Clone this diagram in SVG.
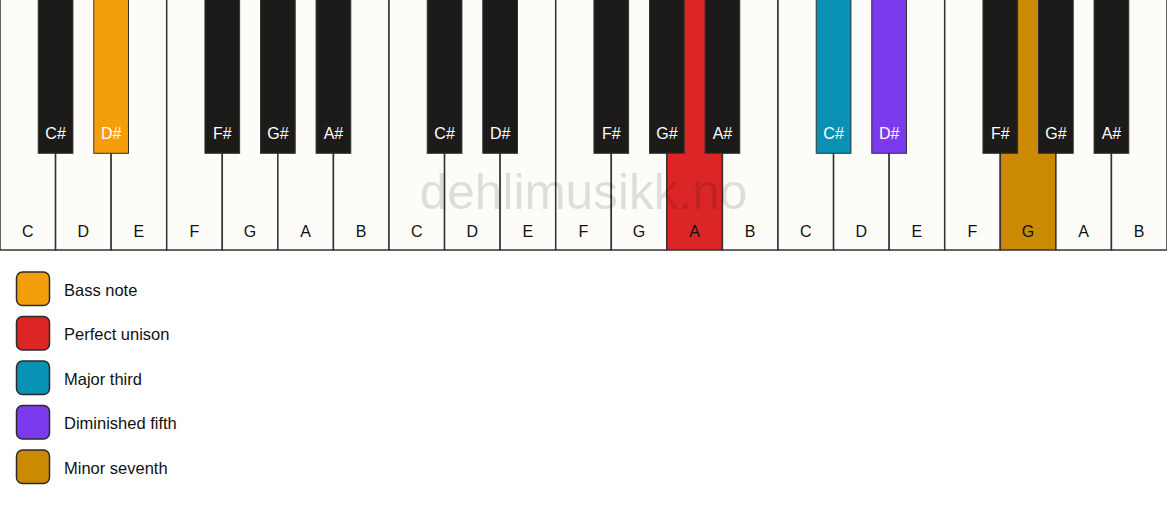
<svg xmlns="http://www.w3.org/2000/svg" width="1167" height="506" viewBox="0 0 1167 506">
<style>
text{font-family:"Liberation Sans",Arial,sans-serif;font-size:16px;text-anchor:middle}
.w{fill:#fdfcf9;stroke:#333;stroke-width:1.5}
.b{fill:#1c1b1a;stroke:#333;stroke-width:1}
.wl{fill:#111}
.bl{fill:#fff}
.lg{stroke:#2a2a2a;stroke-width:1.5}
.lt{text-anchor:start;fill:#111;font-size:16.5px}
.bass{fill:#f59e0b}
.uni{fill:#dc2626}
.third{fill:#0891b2}
.fifth{fill:#7c3aed}
.sev{fill:#ca8a04}
</style>
<rect width="1167" height="506" fill="#ffffff"/>
<g id="white-keys">
<g id="w0"><rect class="w" x="0" y="-2" width="55.571" height="252"/><text class="wl" x="27.79" y="236.5">C</text></g>
<g id="w1"><rect class="w" x="55.571" y="-2" width="55.571" height="252"/><text class="wl" x="83.36" y="236.5">D</text></g>
<g id="w2"><rect class="w" x="111.143" y="-2" width="55.571" height="252"/><text class="wl" x="138.93" y="236.5">E</text></g>
<g id="w3"><rect class="w" x="166.714" y="-2" width="55.571" height="252"/><text class="wl" x="194.5" y="236.5">F</text></g>
<g id="w4"><rect class="w" x="222.286" y="-2" width="55.571" height="252"/><text class="wl" x="250.07" y="236.5">G</text></g>
<g id="w5"><rect class="w" x="277.857" y="-2" width="55.571" height="252"/><text class="wl" x="305.64" y="236.5">A</text></g>
<g id="w6"><rect class="w" x="333.429" y="-2" width="55.571" height="252"/><text class="wl" x="361.21" y="236.5">B</text></g>
<g id="w7"><rect class="w" x="389" y="-2" width="55.571" height="252"/><text class="wl" x="416.79" y="236.5">C</text></g>
<g id="w8"><rect class="w" x="444.571" y="-2" width="55.571" height="252"/><text class="wl" x="472.36" y="236.5">D</text></g>
<g id="w9"><rect class="w" x="500.143" y="-2" width="55.571" height="252"/><text class="wl" x="527.93" y="236.5">E</text></g>
<g id="w10"><rect class="w" x="555.714" y="-2" width="55.571" height="252"/><text class="wl" x="583.5" y="236.5">F</text></g>
<g id="w11"><rect class="w" x="611.286" y="-2" width="55.571" height="252"/><text class="wl" x="639.07" y="236.5">G</text></g>
<g id="w12"><rect class="w uni" x="666.857" y="-2" width="55.571" height="252"/><text class="wl" x="694.64" y="236.5">A</text></g>
<g id="w13"><rect class="w" x="722.429" y="-2" width="55.571" height="252"/><text class="wl" x="750.21" y="236.5">B</text></g>
<g id="w14"><rect class="w" x="778" y="-2" width="55.571" height="252"/><text class="wl" x="805.79" y="236.5">C</text></g>
<g id="w15"><rect class="w" x="833.571" y="-2" width="55.571" height="252"/><text class="wl" x="861.36" y="236.5">D</text></g>
<g id="w16"><rect class="w" x="889.143" y="-2" width="55.571" height="252"/><text class="wl" x="916.93" y="236.5">E</text></g>
<g id="w17"><rect class="w" x="944.714" y="-2" width="55.571" height="252"/><text class="wl" x="972.5" y="236.5">F</text></g>
<g id="w18"><rect class="w sev" x="1000.286" y="-2" width="55.571" height="252"/><text class="wl" x="1028.07" y="236.5">G</text></g>
<g id="w19"><rect class="w" x="1055.857" y="-2" width="55.571" height="252"/><text class="wl" x="1083.64" y="236.5">A</text></g>
<g id="w20"><rect class="w" x="1111.429" y="-2" width="55.571" height="252"/><text class="wl" x="1139.21" y="236.5">B</text></g>
</g>
<text id="watermark" x="583.5" y="208.5" style="font-size:49.5px;fill:#000;fill-opacity:0.12">dehlimusikk.no</text>
<g id="black-keys">
<g id="b0"><rect class="b" x="38.22" y="-2" width="34.7" height="155.3"/><text class="bl" x="55.57" y="139">C#</text></g>
<g id="b1"><rect class="b bass" x="93.79" y="-2" width="34.7" height="155.3"/><text class="bl" x="111.14" y="139">D#</text></g>
<g id="b2"><rect class="b" x="204.94" y="-2" width="34.7" height="155.3"/><text class="bl" x="222.29" y="139">F#</text></g>
<g id="b3"><rect class="b" x="260.51" y="-2" width="34.7" height="155.3"/><text class="bl" x="277.86" y="139">G#</text></g>
<g id="b4"><rect class="b" x="316.08" y="-2" width="34.7" height="155.3"/><text class="bl" x="333.43" y="139">A#</text></g>
<g id="b5"><rect class="b" x="427.22" y="-2" width="34.7" height="155.3"/><text class="bl" x="444.57" y="139">C#</text></g>
<g id="b6"><rect class="b" x="482.79" y="-2" width="34.7" height="155.3"/><text class="bl" x="500.14" y="139">D#</text></g>
<g id="b7"><rect class="b" x="593.94" y="-2" width="34.7" height="155.3"/><text class="bl" x="611.29" y="139">F#</text></g>
<g id="b8"><rect class="b" x="649.51" y="-2" width="34.7" height="155.3"/><text class="bl" x="666.86" y="139">G#</text></g>
<g id="b9"><rect class="b" x="705.08" y="-2" width="34.7" height="155.3"/><text class="bl" x="722.43" y="139">A#</text></g>
<g id="b10"><rect class="b third" x="816.22" y="-2" width="34.7" height="155.3"/><text class="bl" x="833.57" y="139">C#</text></g>
<g id="b11"><rect class="b fifth" x="871.79" y="-2" width="34.7" height="155.3"/><text class="bl" x="889.14" y="139">D#</text></g>
<g id="b12"><rect class="b" x="982.94" y="-2" width="34.7" height="155.3"/><text class="bl" x="1000.29" y="139">F#</text></g>
<g id="b13"><rect class="b" x="1038.51" y="-2" width="34.7" height="155.3"/><text class="bl" x="1055.86" y="139">G#</text></g>
<g id="b14"><rect class="b" x="1094.08" y="-2" width="34.7" height="155.3"/><text class="bl" x="1111.43" y="139">A#</text></g>
</g>
<g id="legend">
<g id="lg-bass"><rect class="lg bass" x="16.5" y="272" width="33" height="33.5" rx="6"/><text class="lt" x="64" y="295.5">Bass note</text></g>
<g id="lg-unison"><rect class="lg uni" x="16.5" y="316.5" width="33" height="33.5" rx="6"/><text class="lt" x="64" y="340">Perfect unison</text></g>
<g id="lg-third"><rect class="lg third" x="16.5" y="361" width="33" height="33.5" rx="6"/><text class="lt" x="64" y="384.5">Major third</text></g>
<g id="lg-fifth"><rect class="lg fifth" x="16.5" y="405.5" width="33" height="33.5" rx="6"/><text class="lt" x="64" y="429">Diminished fifth</text></g>
<g id="lg-seventh"><rect class="lg sev" x="16.5" y="450" width="33" height="33.5" rx="6"/><text class="lt" x="64" y="473.5">Minor seventh</text></g>
</g>
<g id="connectors"/>
</svg>
